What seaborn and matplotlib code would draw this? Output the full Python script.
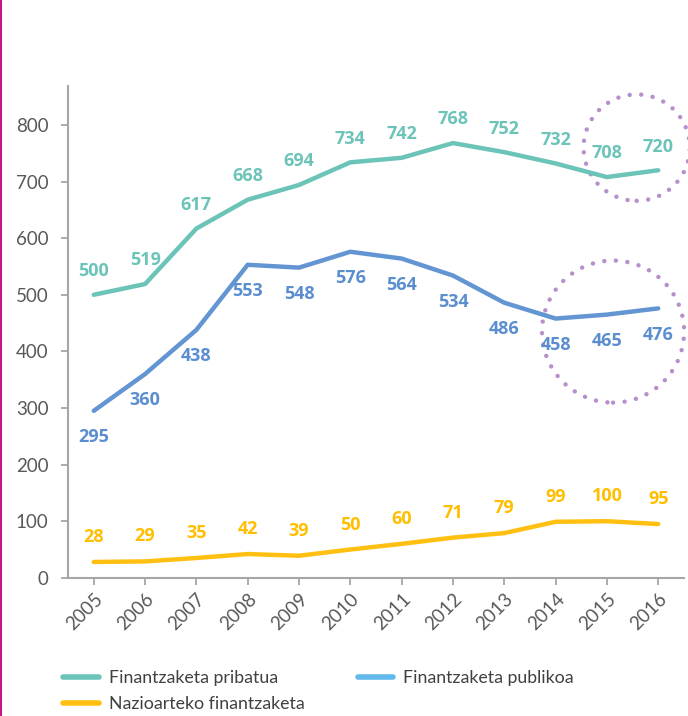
import numpy as np
import pandas as pd
import matplotlib
matplotlib.use("Agg")
import matplotlib.pyplot as plt
import seaborn as sns
from matplotlib.patches import Ellipse
from matplotlib.lines import Line2D

years = ['2005', '2006', '2007', '2008', '2009', '2010',
         '2011', '2012', '2013', '2014', '2015', '2016']
pribatua = [500, 519, 617, 668, 694, 734, 742, 768, 752, 732, 708, 720]
publikoa = [295, 360, 438, 553, 548, 576, 564, 534, 486, 458, 465, 476]
nazioarteko = [28, 29, 35, 42, 39, 50, 60, 71, 79, 99, 100, 95]

names = ['Finantzaketa pribatua', 'Finantzaketa publikoa', 'Nazioarteko finantzaketa']
line_colors = ['#6CC4B8', '#6395D2', '#FFC012']
legend_colors = ['#6CC4B8', '#62B9EC', '#FFC012']
label_colors = ['#6CC4B8', '#5B8ED0', '#FFBF00']

sns.set_theme(style='white')
plt.rcParams['font.family'] = ['Lato', 'DejaVu Sans']

fig = plt.figure(figsize=(6.88, 7.16), dpi=100)
ax = fig.add_axes([0.099, 0.193, 0.895, 0.687])

x = np.arange(len(years))
series = [pribatua, publikoa, nazioarteko]
offsets = [17, -19, 18]
for vals, name, col, lcol, off in zip(series, names, line_colors, label_colors, offsets):
    df = pd.DataFrame({'x': x, 'y': vals})
    sns.lineplot(data=df, x='x', y='y', color=col, lw=3.2, ax=ax,
                 solid_capstyle='round')
    for xi, v in zip(x, vals):
        ax.annotate(str(v), (xi, v), xytext=(0, off), textcoords='offset points',
                    ha='center', va='center', color=lcol, fontsize=13,
                    fontweight='bold', family=['Open Sans', 'DejaVu Sans'])

ax.set_xlim(-0.5, 11.5)
ax.set_ylim(0, 869)
ax.set_xticks(x)
ax.set_xticklabels(years, rotation=45, ha='right', rotation_mode='anchor',
                   fontsize=13.5, color='#595959')
ax.set_yticks([0, 100, 200, 300, 400, 500, 600, 700, 800])
ax.tick_params(axis='y', labelsize=13.5, labelcolor='#595959', length=5,
               width=1.3, color='#A6A6A6', direction='out', left=True, pad=9)
ax.tick_params(axis='x', length=5, width=1.3, color='#A6A6A6', direction='out',
               bottom=True, pad=4)
ax.set_xlabel('')
ax.set_ylabel('')
sns.despine(ax=ax)
for s in ['left', 'bottom']:
    ax.spines[s].set_color('#A6A6A6')
    ax.spines[s].set_linewidth(1.5)

# dotted highlight circles
for cx, cy, w, h in [(10.58, 760, 2.07, 188), (10.12, 435, 2.77, 251)]:
    e = Ellipse((cx, cy), w, h, fill=False, edgecolor='#B78FCB', lw=3.2,
                linestyle=(0, (0.01, 2.6)), capstyle='round', clip_on=False)
    ax.add_patch(e)

# legend
handles = [Line2D([0], [0], color=c, lw=4, solid_capstyle='round') for c in legend_colors]
order = [0, 2, 1]
fig.legend([handles[i] for i in order], [names[i] for i in order],
           loc='upper left', bbox_to_anchor=(0.092, 0.064), ncol=2, frameon=False,
           fontsize=12.8, labelcolor='#404040', handlelength=2.0,
           handletextpad=0.55, columnspacing=3.0, labelspacing=0.55,
           borderaxespad=0, borderpad=0)

# magenta rule on the left edge
fig.add_artist(Line2D([0.002, 0.002], [0, 1], color='#C0198C', lw=1.5,
                      transform=fig.transFigure))

fig.savefig('out.png', dpi=100)
